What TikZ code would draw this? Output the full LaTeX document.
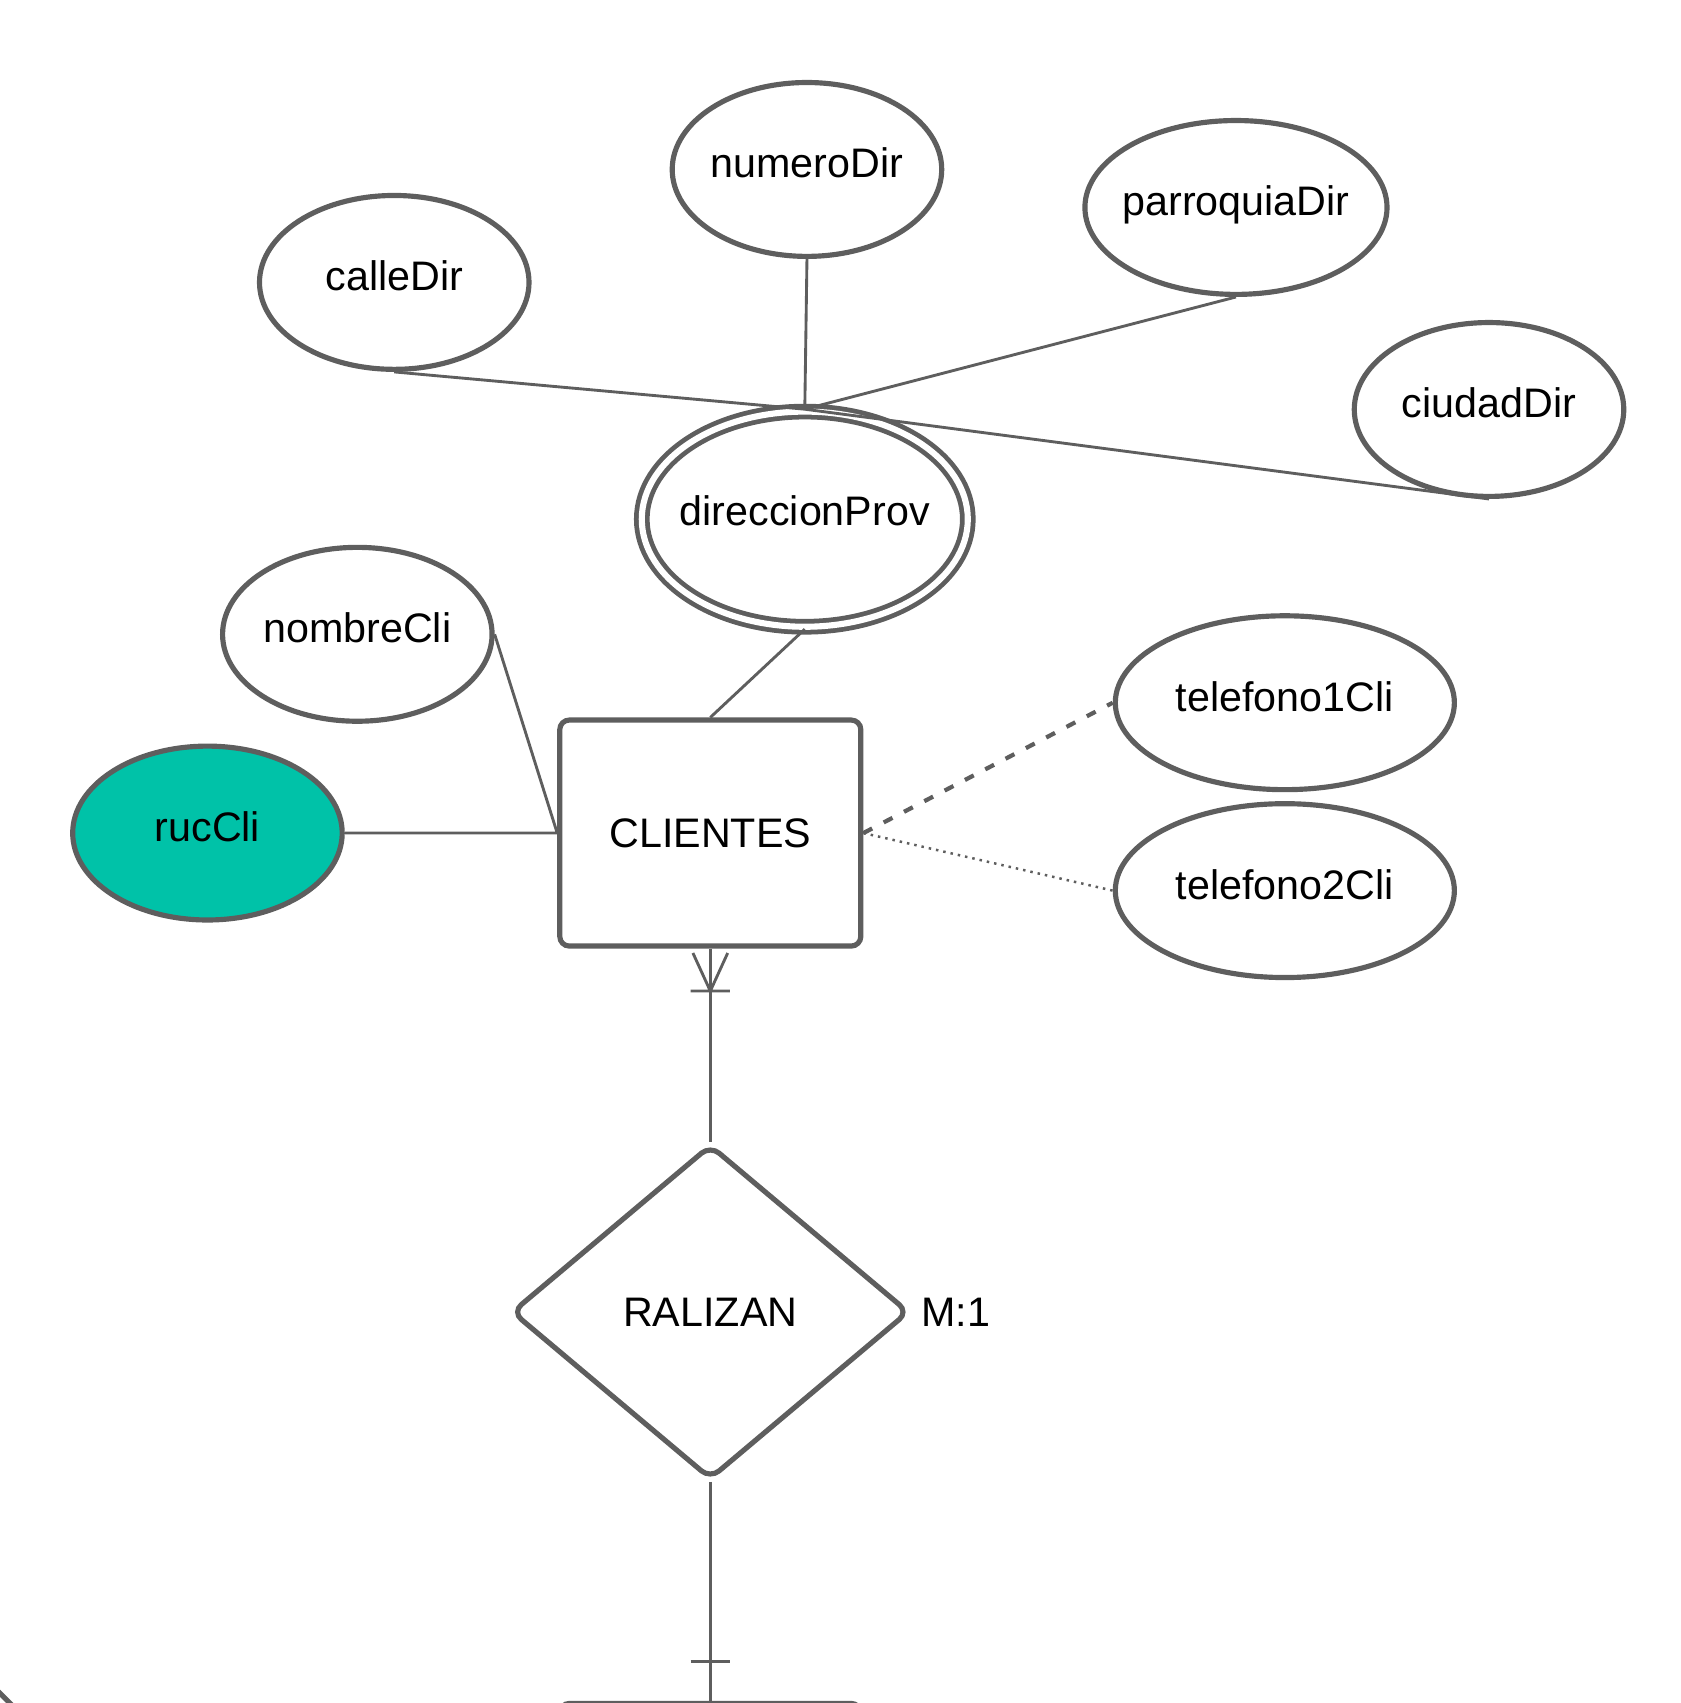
\documentclass[tikz,border=0pt]{standalone}
\usepackage{fontspec}
\setmainfont{Liberation Sans}
\usetikzlibrary{shapes.geometric,positioning}
\definecolor{linegray}{RGB}{94,94,94}
\definecolor{keyteal}{RGB}{0,194,168}

\begin{document}
\begin{tikzpicture}[x=0.01cm,y=-0.01cm,font=\fontsize{10.8}{13}\selectfont,
  attr/.style={ellipse,draw=linegray,line width=1.35pt,inner xsep=-0.25cm,inner ysep=0pt,
    text depth=0.12cm,minimum width=2.48cm,minimum height=1.6cm},
  wideattr/.style={attr,minimum width=3.12cm},
  keyattr/.style={attr,fill=keyteal},
  multiattr/.style={attr,double,line width=1.25pt,double distance=1.6pt,text depth=0.16cm,
    minimum width=3.0cm,minimum height=1.98cm},
  entity/.style={rectangle,draw=linegray,line width=1.35pt,rounded corners=2.5pt,
    minimum width=2.77cm,minimum height=2.08cm},
  rel/.style={diamond,draw=linegray,line width=1.35pt,rounded corners=3pt,inner sep=0pt,
    minimum width=3.66cm,minimum height=3.08cm},
  conn/.style={draw=linegray,line width=0.75pt}]

  \useasboundingbox (0,0) rectangle (1547,1568);
  \clip (0,0) rectangle (1547,1568);

  % direccion attributes
  \node[attr] (numeroDir) at (743,156) {numeroDir};
  \node[attr,minimum width=2.78cm] (parroquiaDir) at (1138,191) {parroquiaDir};
  \node[attr] (calleDir) at (363,260) {calleDir};
  \node[attr] (ciudadDir) at (1371,377) {ciudadDir};
  \node[multiattr] (direccionProv) at (741,478) {direccionProv};

  % client attributes
  \node[attr] (nombreCli) at (329,584) {nombreCli};
  \node[keyattr] (rucCli) at (191,767) {rucCli};
  \node[wideattr] (telefono1Cli) at (1183,647) {telefono1Cli};
  \node[wideattr] (telefono2Cli) at (1183,820) {telefono2Cli};

  \node[entity] (CLIENTES) at (654,767) {CLIENTES};
  \node[rel] (RALIZAN) at (654,1208) {RALIZAN};
  \node[anchor=west] (card) at (836,1208) {M:1};
  \node[entity,anchor=north] (entBottom) at (654,1566) {};

  \draw[conn] (calleDir.south) -- (direccionProv.north)
    (numeroDir.south) -- (direccionProv.north)
    (parroquiaDir.south) -- (direccionProv.north)
    (direccionProv.north) -- (ciudadDir.south)
    (direccionProv.south) -- (CLIENTES.north)
    (nombreCli.east) -- (CLIENTES.west)
    (rucCli.east) -- (CLIENTES.west);
  \draw[conn,line width=1.1pt,dash pattern=on 2.6pt off 3.4pt] (CLIENTES.east) -- (telefono1Cli.west);
  \draw[conn,line width=0.65pt,dash pattern=on 0.65pt off 1.3pt] (CLIENTES.east) -- (telefono2Cli.west);

  % crow foot at CLIENTES
  \draw[conn] (CLIENTES.south) -- (RALIZAN.north);
  \draw[conn] ([xshift=-0.16cm,yshift=-0.04cm]CLIENTES.south) -- ([yshift=-0.39cm]CLIENTES.south)
    -- ([xshift=0.16cm,yshift=-0.04cm]CLIENTES.south)
    ([xshift=-0.18cm,yshift=-0.39cm]CLIENTES.south) -- ([xshift=0.18cm,yshift=-0.39cm]CLIENTES.south);

  % one bar at the lower entity
  \draw[conn] (RALIZAN.south) -- (entBottom.north);
  \draw[conn] ([xshift=-0.18cm,yshift=0.36cm]entBottom.north) -- ([xshift=0.18cm,yshift=0.36cm]entBottom.north);

  \draw[linegray,line width=1.35pt] (-6,1553) -- (14,1573);
\end{tikzpicture}
\end{document}
